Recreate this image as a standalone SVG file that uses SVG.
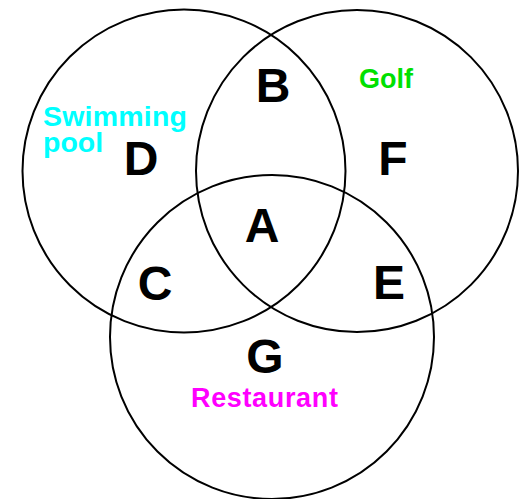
<svg xmlns="http://www.w3.org/2000/svg" width="529" height="499" viewBox="0 0 529 499">
<style>
.c{fill:none;stroke:#000;stroke-width:2}
.l{font-family:"Liberation Sans",Arial,sans-serif;font-weight:bold;font-size:48px;fill:#000;text-anchor:middle}
.s{font-family:"Liberation Sans",Arial,sans-serif;font-weight:bold;font-size:27px}
</style>
<rect width="529" height="499" fill="#fff"/>
<g id="sets">
<g id="swimming-pool"><circle class="c" cx="184" cy="171" r="161.5"/></g>
<g id="golf"><circle class="c" cx="357" cy="171" r="161"/></g>
<g id="restaurant"><circle class="c" cx="272" cy="337" r="162"/></g>
</g>
<g id="connectors"></g>
<g id="labels">
<text id="A" class="l" x="262" y="242">A</text>
<text id="B" class="l" x="273" y="102">B</text>
<text id="C" class="l" x="155" y="300">C</text>
<text id="D" class="l" x="141" y="175">D</text>
<text id="E" class="l" x="389" y="299">E</text>
<text id="F" class="l" x="393" y="175">F</text>
<text id="G" class="l" x="265" y="373">G</text>
<text class="s" fill="#00FFFF" style="font-size:28.5px"><tspan x="43" y="126" style="letter-spacing:0.2px">Swimming</tspan><tspan x="43" y="152">pool</tspan></text>
<text class="s" x="359" y="88" fill="#00E000">Golf</text>
<text class="s" x="191" y="407" fill="#FF00FF" style="letter-spacing:0.65px">Restaurant</text>
</g>
</svg>
